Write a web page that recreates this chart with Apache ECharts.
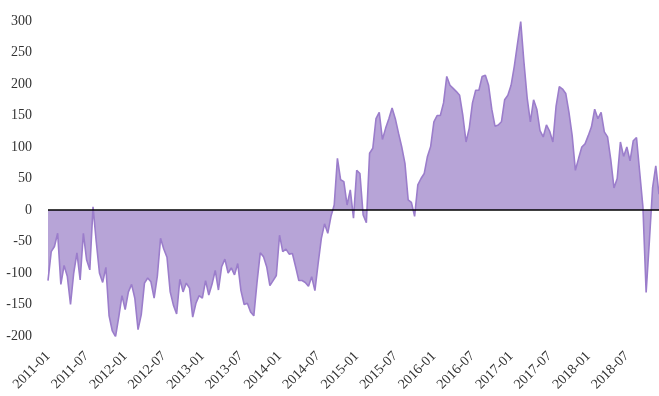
<!DOCTYPE html>
<html>
<head>
<meta charset="utf-8">
<script src="https://cdn.jsdelivr.net/npm/echarts@6/dist/echarts.min.js"></script>
<style>
  html, body { margin: 0; padding: 0; background: #fff; }
  #chart { width: 659px; height: 396px; }
</style>
</head>
<body>
<div id="chart"></div>
<script>
// Semi-monthly observations, Jan 2011 through Dec 2018
const startYear = 2011;
const pointCount = 191;

const values = [
  -112, -66, -58, -37, -118, -88, -105, -150, -100, -68, -111, -37,
  -79, -95, 5, -50, -100, -115, -91, -168, -192, -201, -170, -136,
  -158, -130, -118, -140, -190, -166, -116, -108, -114, -140, -105, -45,
  -62, -75, -130, -151, -165, -110, -130, -116, -124, -170, -148, -136,
  -140, -112, -135, -118, -96, -127, -90, -78, -100, -92, -103, -85,
  -128, -150, -148, -162, -168, -115, -68, -74, -90, -120, -112, -104,
  -40, -66, -62, -70, -69, -90, -112, -112, -115, -121, -106, -128,
  -85, -45, -22, -37, -10, 8, 82, 48, 45, 8, 32, -13,
  63, 58, -8, -20, 90, 98, 145, 155, 112, 130, 145, 162,
  145, 122, 100, 74, 16, 12, -10, 40, 50, 58, 85, 101,
  140, 150, 150, 170, 212, 198, 193, 188, 182, 150, 108, 130,
  170, 190, 190, 212, 214, 198, 160, 133, 135, 140, 175, 182,
  198, 228, 264, 299, 235, 178, 140, 175, 160, 126, 116, 135,
  125, 108, 165, 196, 192, 185, 155, 118, 63, 82, 100, 105,
  118, 132, 160, 145, 155, 124, 116, 80, 35, 50, 108, 85,
  100, 78, 110, 115, 60, 5, -131, -50, 35, 70, 25
];

const yTicks = { min: -200, max: 300, step: 50 };

// Category dates: the 1st and 16th of every month
const dates = [];
for (let i = 0; i < pointCount; i++) {
  const y = startYear + Math.floor(i / 24);
  const m = Math.floor((i % 24) / 2) + 1;
  const d = i % 2 ? 16 : 1;
  dates.push(y + '-' + String(m).padStart(2, '0') + '-' + String(d).padStart(2, '0'));
}

const serif = "'Liberation Serif', 'DejaVu Serif', serif";

const chart = echarts.init(document.getElementById('chart'), null, { renderer: 'canvas' });
chart.setOption({
  animation: false,
  grid: { left: 48, right: 0, top: 21, bottom: 60, containLabel: false },
  xAxis: {
    type: 'category',
    data: dates,
    boundaryGap: false,
    axisLine: { show: false, onZero: false },
    axisTick: { show: false },
    splitLine: { show: false },
    axisLabel: {
      interval: function (idx) { return idx % 12 === 0; },
      formatter: function (v) { return v.slice(0, 7); },
      rotate: 45,
      margin: 18,
      color: '#333',
      fontFamily: serif,
      fontSize: 14,
      hideOverlap: false
    }
  },
  yAxis: {
    type: 'value',
    min: yTicks.min,
    max: yTicks.max,
    interval: yTicks.step,
    axisLine: { show: false },
    axisTick: { show: false },
    splitLine: { show: false },
    axisLabel: {
      margin: 16,
      color: '#333',
      fontFamily: serif,
      fontSize: 14
    }
  },
  series: [{
    type: 'line',
    data: values,
    symbol: 'none',
    smooth: false,
    lineStyle: { color: '#9b7dcb', width: 1.6 },
    areaStyle: { color: '#b7a4d7', opacity: 1 },
    markLine: {
      silent: true,
      symbol: 'none',
      label: { show: false },
      lineStyle: { color: '#000', width: 1.5, type: 'solid' },
      data: [{ yAxis: 0 }]
    }
  }]
});
</script>
</body>
</html>
